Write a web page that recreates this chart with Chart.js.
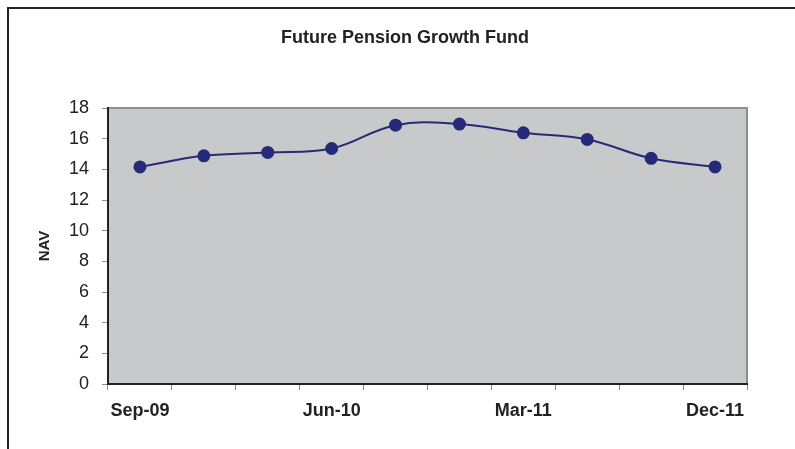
<!DOCTYPE html>
<html>
<head>
<meta charset="utf-8">
<script src="https://cdn.jsdelivr.net/npm/chart.js@4/dist/chart.umd.min.js"></script>
<style>
    body { margin: 0; background: #ffffff; }
    #wrap { position: relative; width: 795px; height: 449px; overflow: hidden; }
    #marco { position: absolute; left: 7px; top: 7px; width: 820px; height: 480px; border-left: 2px solid #222; border-top: 2px solid #222; }
    canvas { position: absolute; left: 0; top: 0; }
</style>
</head>
<body>
<div id="wrap">
    <div id="marco"></div>
    <canvas id="lineChart" width="795" height="449"></canvas>
</div>
<script>
// Datos del grafico
const titulo = 'Future Pension Growth Fund';
const categorias = ['Sep-09', 'Dec-09', 'Mar-10', 'Jun-10', 'Sep-10', 'Dec-10', 'Mar-11', 'Jun-11', 'Sep-11', 'Dec-11'];
const valoresNav = [14.16, 14.88, 15.10, 15.36, 16.88, 16.95, 16.38, 15.95, 14.72, 14.16];
const etiquetasX = ['Sep-09', 'Jun-10', 'Mar-11', 'Dec-11'];
const ticksY = [0, 2, 4, 6, 8, 10, 12, 14, 16, 18];

const colorSerie = '#262a78';
const fuente = 'Arial, "Liberation Sans"';

// Fondo gris del area de trazado con borde superior y derecho
const fondoPlot = {
    id: 'fondoPlot',
    beforeDraw(chart) {
        const { ctx, chartArea: a } = chart;
        ctx.save();
        ctx.fillStyle = '#c8c9cb';
        ctx.fillRect(a.left, a.top, a.right - a.left, a.bottom - a.top);
        ctx.strokeStyle = '#8e8e8e';
        ctx.lineWidth = 2;
        ctx.beginPath();
        ctx.moveTo(a.left, a.top);
        ctx.lineTo(a.right, a.top);
        ctx.lineTo(a.right, a.bottom);
        ctx.stroke();
        ctx.restore();
    },
    // titulo centrado sobre todo el grafico
    afterDraw(chart) {
        const ctx = chart.ctx;
        ctx.save();
        ctx.fillStyle = '#222';
        ctx.font = 'bold 18px ' + fuente;
        ctx.textAlign = 'center';
        ctx.textBaseline = 'middle';
        ctx.fillText(titulo, 405, 38);
        ctx.restore();
    }
};

const ctx = document.getElementById('lineChart').getContext('2d');
new Chart(ctx, {
    type: 'line',
    data: {
        labels: categorias,
        datasets: [{
            label: 'NAV',
            data: valoresNav,
            borderColor: colorSerie,
            backgroundColor: colorSerie,
            borderWidth: 2,
            tension: 0.4,
            pointRadius: 5.5,
            pointBackgroundColor: colorSerie,
            pointBorderColor: colorSerie,
            fill: false
        }]
    },
    options: {
        responsive: false,
        animation: false,
        layout: { padding: { left: 36, right: 48, top: 108, bottom: 0 } },
        plugins: {
            legend: { display: false },
            tooltip: { enabled: false },
            title: { display: false }
        },
        scales: {
            x: {
                offset: true,
                grid: { offset: true, drawOnChartArea: false, drawTicks: true, tickLength: 6, color: '#8e8e8e' },
                border: { display: true, color: '#222', width: 2 },
                ticks: {
                    autoSkip: false,
                    maxRotation: 0,
                    padding: 10,
                    color: '#222',
                    font: { family: fuente, size: 18, weight: 'bold' },
                    callback: function (val, i) {
                        const lab = categorias[i];
                        return etiquetasX.includes(lab) ? lab : '';
                    }
                },
                afterFit: (scale) => { scale.height = 65; }
            },
            y: {
                min: 0,
                max: 18,
                afterBuildTicks: (scale) => { scale.ticks = ticksY.map(v => ({ value: v })); },
                grid: { drawOnChartArea: false, drawTicks: true, tickLength: 6, color: '#8e8e8e' },
                border: { display: true, color: '#222', width: 2 },
                ticks: {
                    padding: 13,
                    color: '#222',
                    font: { family: fuente, size: 18 }
                },
                title: {
                    display: true,
                    text: 'NAV',
                    color: '#222',
                    padding: 0,
                    font: { family: fuente, size: 15, weight: 'bold' }
                },
                afterFit: (scale) => { scale.width = 72; }
            }
        }
    },
    plugins: [fondoPlot]
});
</script>
</body>
</html>
